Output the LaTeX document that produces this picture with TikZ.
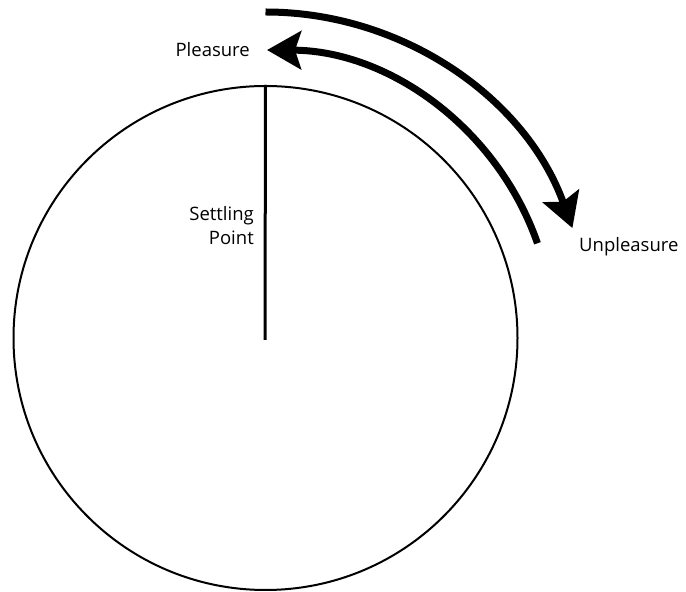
\documentclass[tikz,border=0pt]{standalone}
\usepackage{fontspec}
\setmainfont{Open Sans}
\usetikzlibrary{arrows.meta,calc}
\begin{document}
\begin{tikzpicture}[x=1pt,y=1pt,
  lbl/.style={font=\fontsize{18.5}{24}\selectfont, inner sep=0pt},
  bigarrow/.style={line width=7pt, -{Stealth[length=34pt,width=38pt,inset=6pt]}}]
\useasboundingbox (0,0) rectangle (686,592);
\node[circle, draw, line width=2pt, minimum size=504pt, inner sep=0pt] (c) at (265.5,254) {};
\coordinate (mid) at (265,252);
\draw[line width=3pt] (c.north) -- (mid);
\coordinate (o1) at ($(c.center)+(90:326)$);
\coordinate (i1) at ($(c.center)+(19.2:288)$);
\draw[bigarrow] (o1) arc[start angle=90, end angle=19.7, radius=326];
\draw[bigarrow] (i1) arc[start angle=19.2, end angle=89.7, radius=288];
\node[lbl, anchor=base east] (pl) at (250,535) {Pleasure};
\node[lbl, anchor=base west] (un) at (579,340) {Unpleasure};
\node[lbl, anchor=north east, align=right] (sp) at (254,386) {Settling\\Point};
\end{tikzpicture}
\end{document}
